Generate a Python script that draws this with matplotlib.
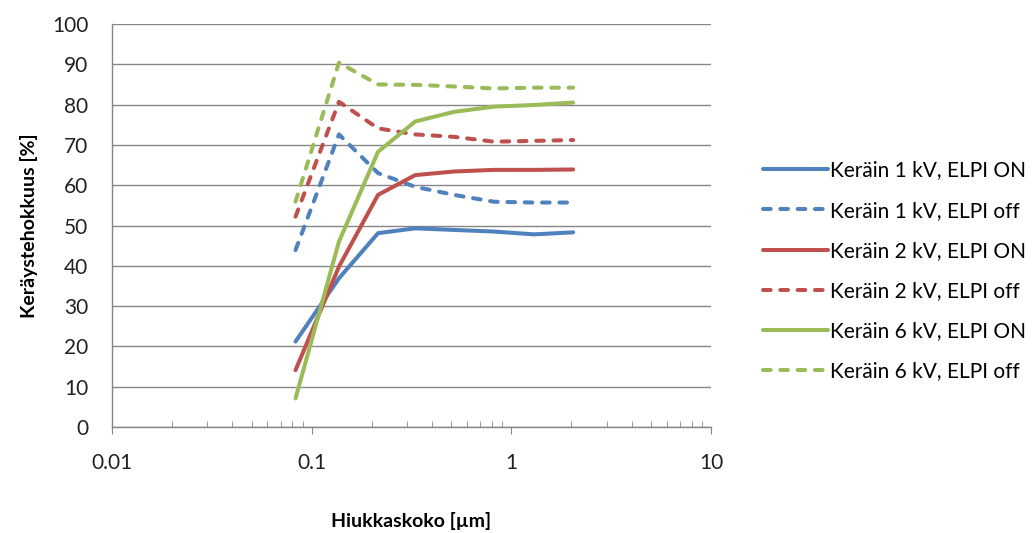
import matplotlib
matplotlib.use("Agg")
import matplotlib.pyplot as plt
from matplotlib.ticker import LogLocator, FixedLocator, NullFormatter

plt.rcParams["font.family"] = ["Lato", "DejaVu Sans"]

# ELPI stage mean diameters [um]
sizes = [0.083, 0.137, 0.215, 0.33, 0.516, 0.818, 1.30, 2.04]

kv1_on = [21.2, 36.9, 48.1, 49.3, 48.9, 48.5, 47.8, 48.3]
kv1_off = [43.9, 72.6, 63.0, 59.6, 57.6, 55.9, 55.7, 55.7]
kv2_on = [14.1, 39.8, 57.6, 62.5, 63.4, 63.8, 63.8, 63.9]
kv2_off = [52.2, 80.7, 74.1, 72.6, 72.0, 70.8, 71.0, 71.2]
kv6_on = [7.1, 46.0, 68.3, 75.8, 78.2, 79.5, 79.9, 80.5]
kv6_off = [55.9, 90.4, 85.0, 84.9, 84.5, 84.0, 84.2, 84.2]

series = [
    ("Keräin 1 kV, ELPI ON", kv1_on, "#4F81BD", False),
    ("Keräin 1 kV, ELPI off", kv1_off, "#4F81BD", True),
    ("Keräin 2 kV, ELPI ON", kv2_on, "#C0504D", False),
    ("Keräin 2 kV, ELPI off", kv2_off, "#C0504D", True),
    ("Keräin 6 kV, ELPI ON", kv6_on, "#9BBB59", False),
    ("Keräin 6 kV, ELPI off", kv6_off, "#9BBB59", True),
]

fig = plt.figure(figsize=(10.32, 5.33), dpi=100)
ax = fig.add_axes([112 / 1032, 1 - 427 / 533, 599 / 1032, 403 / 533])

for label, vals, color, dashed in series:
    line, = ax.plot(sizes, vals, color=color, lw=2.9, label=label,
                    solid_capstyle="round", dash_capstyle="round",
                    solid_joinstyle="round")
    if dashed:
        line.set_dashes((1.9, 2.4))

ax.set_xscale("log")
ax.set_xlim(0.01, 10)
ax.set_ylim(0, 100)
ax.set_yticks(range(0, 101, 10))
ax.xaxis.set_major_locator(FixedLocator([0.01, 0.1, 1, 10]))
ax.set_xticklabels(["0.01", "0.1", "1", "10"])
ax.xaxis.set_minor_locator(LogLocator(base=10, subs=range(2, 10)))
ax.xaxis.set_minor_formatter(NullFormatter())

grid_col = "#868686"
ax.grid(axis="y", color=grid_col, lw=1.0)
ax.set_axisbelow(True)
for s in ["top", "right"]:
    ax.spines[s].set_visible(False)
for s in ["left", "bottom"]:
    ax.spines[s].set_color(grid_col)
    ax.spines[s].set_linewidth(1.0)

ax.tick_params(axis="x", which="major", direction="out", length=5,
               color=grid_col, pad=14, labelsize=15, labelcolor="#222222")
ax.tick_params(axis="x", which="minor", direction="in", length=4,
               color=grid_col)
ax.tick_params(axis="y", length=0, pad=17, labelsize=15,
               labelcolor="#222222")

ax.set_xlabel("Hiukkaskoko [µm]", fontsize=14, fontweight="bold", labelpad=28)
ax.set_ylabel("Keräystehokkuus [%]", fontsize=14, fontweight="bold",
              labelpad=10)

ax.legend(loc="center left", bbox_to_anchor=(755 / 1032, 262 / 533),
          bbox_transform=fig.transFigure, frameon=False, fontsize=15,
          handlelength=3.1, handletextpad=0.1, labelspacing=0.97,
          borderaxespad=0)

fig.savefig("out.png", dpi=100)
